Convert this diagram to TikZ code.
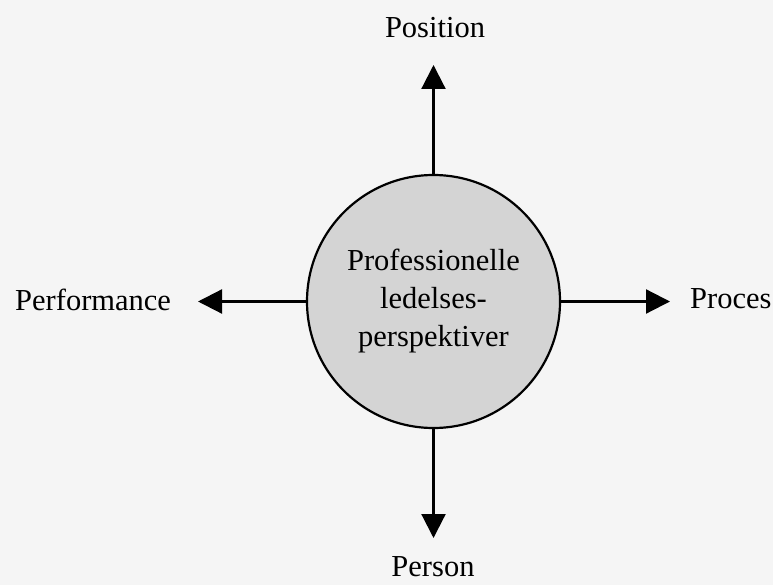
\documentclass[tikz,border=0pt]{standalone}
\usepackage{fontspec}
\setmainfont{Liberation Serif}
\usetikzlibrary{arrows.meta}
\begin{document}
\begin{tikzpicture}[x=1pt,y=-1pt,
  lbl/.style={inner sep=0pt,font=\fontsize{30.5}{38}\selectfont},
  hub/.style={circle,draw=black,line width=2.2pt,fill=black!17,minimum size=253pt,inner sep=0pt,align=center,font=\fontsize{30.5}{38}\selectfont},
  arr/.style={line width=2.2pt,-{Triangle[length=24pt,width=24pt]}}]
\fill[black!4] (0,0) rectangle (773,585);
\useasboundingbox (0,0) rectangle (773,585);
\node[hub] (c) at (433.5,301.5) {Professionelle\\ledelses-\\perspektiver};
\node[lbl,anchor=base] (pos) at (435,38) {Position};
\node[lbl,anchor=base] (per) at (433,576) {Person};
\node[lbl,anchor=base west] (perf) at (15,310) {Performance};
\node[lbl,anchor=base west] (proc) at (690,308) {Proces};
\coordinate (tU) at (433.5,65);
\coordinate (tD) at (433.5,538);
\coordinate (tL) at (198,301.5);
\coordinate (tR) at (670,301.5);
\draw[arr] (c.north) -- (tU);
\draw[arr] (c.south) -- (tD);
\draw[arr] (c.west) -- (tL);
\draw[arr] (c.east) -- (tR);
\end{tikzpicture}
\end{document}
